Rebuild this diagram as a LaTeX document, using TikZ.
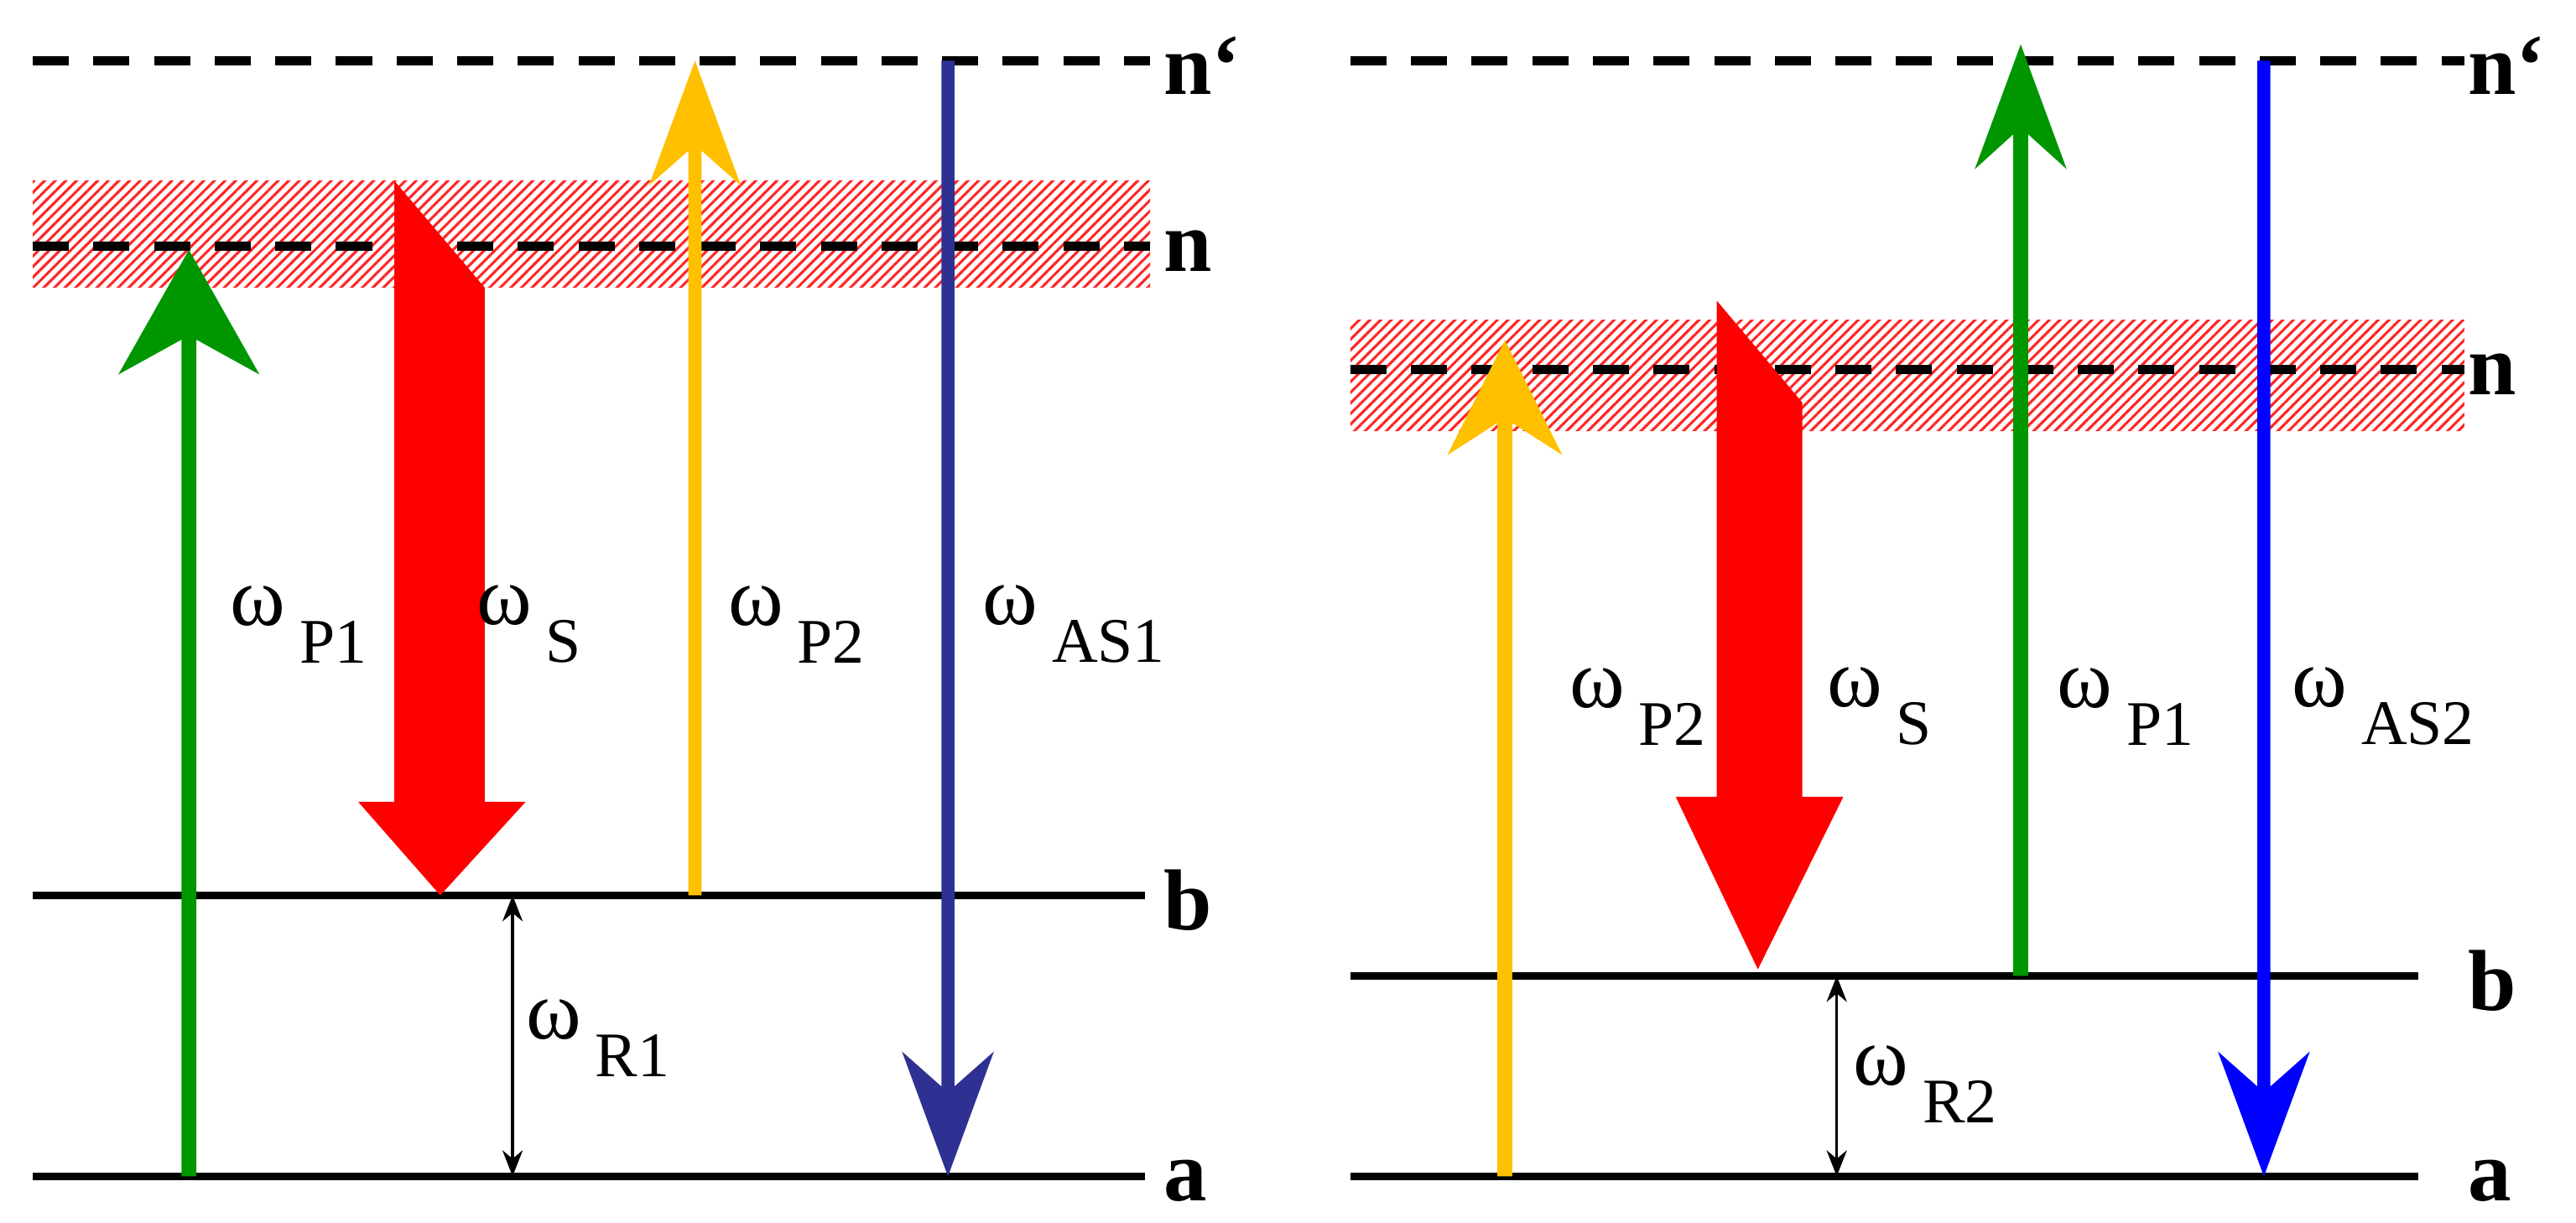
\documentclass[tikz,border=0pt]{standalone}
\usepackage{fontspec}
\setmainfont{Liberation Serif}
\usetikzlibrary{patterns.meta,arrows.meta}
\definecolor{pgreen}{RGB}{0,150,0}
\definecolor{pyellow}{RGB}{255,192,0}
\definecolor{pnavy}{RGB}{46,49,146}
\definecolor{pblue}{RGB}{0,0,255}
\definecolor{pred}{RGB}{255,0,0}
\tikzset{
  lvl/.style={line width=2.8pt},
  dlvl/.style={line width=3.2pt,dash pattern=on 12.5pt off 8.5pt},
  band/.style={pattern={Lines[angle=45,distance=2.6pt,line width=0.9pt]},pattern color=red!85},
  lbl/.style={font=\bfseries\fontsize{30}{30}\selectfont,anchor=west,inner sep=0pt},
  om/.style={font=\fontsize{29}{29}\selectfont,anchor=west,inner sep=0pt},
  rr/.style={line width=1pt,{Stealth[length=9pt,width=7pt]}-{Stealth[length=9pt,width=7pt]}}
}
\newcommand\om[1]{ω\,\raisebox{-0.45em}{\fontsize{22}{22}\selectfont #1}}
% up arrow: x, ybottom, ytip, headlength, halfwidth, shafthalf, colour
\newcommand\uparr[7]{\fill[#7] ({#1-#6},#2) -- ({#1-#6},{#3+0.72*#4}) -- ({#1-#5},{#3+#4}) -- (#1,#3) -- ({#1+#5},{#3+#4}) -- ({#1+#6},{#3+0.72*#4}) -- ({#1+#6},#2) -- cycle;}
\newcommand\dnarr[7]{\fill[#7] ({#1-#6},#2) -- ({#1-#6},{#3-0.72*#4}) -- ({#1-#5},{#3-#4}) -- (#1,#3) -- ({#1+#5},{#3-#4}) -- ({#1+#6},{#3-0.72*#4}) -- ({#1+#6},#2) -- cycle;}
\begin{document}
\begin{tikzpicture}[x=0.02cm,y=-0.02cm]
\useasboundingbox (0,0) rectangle (1568,744.4);
% ---------- left panel ----------
\fill[band] (20,110) rectangle (700,175);
\draw[dlvl] (20,37) -- (700,37);
\draw[dlvl] (20,150) -- (700,150);
\draw[lvl] (20,545) -- (697,545);
\draw[lvl] (20,716) -- (697,716);
\node[lbl] (n1p) at (708,40) {n‘};
\node[lbl] (n1) at (708,153) {n};
\node[lbl] (b1) at (708,548) {b};
\node[lbl] (a1) at (708,719) {a};
\uparr{115}{716}{152}{76}{43}{4.5}{pgreen}
\fill[pred] (240,110) -- (295,175) -- (295,488) -- (320,488) -- (268,545) -- (218,488) -- (240,488) -- cycle;
\uparr{423}{545}{37}{76}{28}{4}{pyellow}
\dnarr{577}{37}{716}{76}{28}{4}{pnavy}
\coordinate (r1t) at (312,545); \coordinate (r1b) at (312,716);
\draw[rr] (r1t) -- (r1b);
\node[om] (wr1) at (320,632) {\om{R1}};
\node[om] (wp1) at (140,380) {\om{P1}};
\node[om] (ws1) at (290,380) {\om{S}};
\node[om] (wp2) at (443,380) {\om{P2}};
\node[om] (was1) at (598,380) {\om{AS1}};
% ---------- right panel ----------
\fill[band] (822,195) rectangle (1500,262);
\draw[dlvl] (822,37) -- (1500,37);
\draw[dlvl] (822,225) -- (1500,225);
\draw[lvl] (822,594) -- (1472,594);
\draw[lvl] (822,716) -- (1472,716);
\node[lbl] (n2p) at (1502,40) {n‘};
\node[lbl] (n2) at (1502,228) {n};
\node[lbl] (b2) at (1502,597) {b};
\node[lbl] (a2) at (1502,719) {a};
\uparr{916}{716}{207}{70}{35}{4.5}{pyellow}
\fill[pred] (1045,183) -- (1097,245) -- (1097,485) -- (1122,485) -- (1070,590) -- (1020,485) -- (1045,485) -- cycle;
\uparr{1230}{594}{27}{76}{28}{4.5}{pgreen}
\dnarr{1378}{37}{716}{76}{28}{4}{pblue}
\coordinate (r2t) at (1118,594); \coordinate (r2b) at (1118,716);
\draw[rr] (r2t) -- (r2b);
\node[om] (wr2) at (1128,660) {\om{R2}};
\node[om] (wp2b) at (955,430) {\om{P2}};
\node[om] (wsb) at (1112,430) {\om{S}};
\node[om] (wp1b) at (1252,430) {\om{P1}};
\node[om] (was2) at (1395,430) {\om{AS2}};
\end{tikzpicture}
\end{document}
